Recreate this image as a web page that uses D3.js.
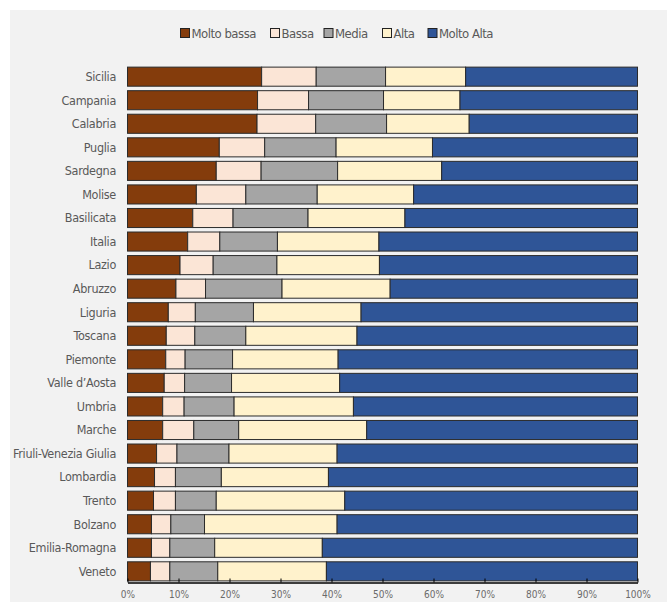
<!DOCTYPE html>
<html>
<head>
<meta charset="utf-8">
<script src="https://cdn.jsdelivr.net/npm/d3@7"></script>
<style>
  html, body { margin: 0; padding: 0; background: #ffffff; }
  svg { display: block; }
  text { font-family: "DejaVu Sans Condensed", "Liberation Sans Narrow", "Roboto", sans-serif; }
</style>
</head>
<body>
<svg id="chart" width="667" height="602"></svg>
<script>
const regions = ["Sicilia","Campania","Calabria","Puglia","Sardegna","Molise","Basilicata","Italia","Lazio","Abruzzo","Liguria","Toscana","Piemonte","Valle d\u2019Aosta","Umbria","Marche","Friuli-Venezia Giulia","Lombardia","Trento","Bolzano","Emilia-Romagna","Veneto"];
const seriesNames = ["Molto bassa","Bassa","Media","Alta","Molto Alta"];
const seriesColors = ["#843c0c","#fbe5d6","#a5a5a5","#fff2cc","#2f5597"];

// percentages per region (same order as regions)
const moltoBassa = [26.3,25.5,25.4,18.0,17.4,13.5,12.8,11.8,10.3,9.5,8.0,7.6,7.5,7.2,6.9,6.9,5.7,5.3,5.1,4.7,4.7,4.5];
const bassa      = [10.7,10.0,11.5,8.9,8.8,9.7,7.9,6.3,6.5,5.8,5.3,5.6,3.8,4.0,4.2,6.1,4.0,4.1,4.3,3.8,3.6,3.8];
const media      = [13.6,14.7,13.9,14.0,15.0,14.0,14.7,11.3,12.5,15.0,11.4,10.0,9.3,9.2,9.8,8.8,10.2,9.0,8.0,6.6,8.8,9.4];
const alta       = [15.7,15.0,16.2,18.9,20.4,18.9,19.0,19.9,20.1,21.2,21.1,21.8,20.7,21.2,23.4,25.1,21.2,21.0,25.2,26.0,21.1,21.3];
const moltoAlta  = [33.7,34.8,33.0,40.2,38.4,43.9,45.6,50.7,50.6,48.5,54.2,55.0,58.7,58.4,55.7,53.1,58.9,60.6,57.4,58.9,61.8,61.0];
const tickValues = [0,10,20,30,40,50,60,70,80,90,100];

const table = regions.map((r, i) => ({
  region: r,
  "Molto bassa": moltoBassa[i],
  "Bassa": bassa[i],
  "Media": media[i],
  "Alta": alta[i],
  "Molto Alta": moltoAlta[i]
}));
// normalise to 100%
table.forEach(d => {
  const tot = seriesNames.reduce((s, k) => s + d[k], 0);
  seriesNames.forEach(k => d[k] = d[k] / tot * 100);
});

const svg = d3.select("#chart");
svg.append("rect").attr("x", 10).attr("y", 10).attr("width", 657).attr("height", 592).attr("fill", "#f2f2f2");

const x = d3.scaleLinear().domain([0, 100]).range([127.5, 637.5]);
const y = d3.scaleBand().domain(regions).range([65, 583]).paddingInner(0.19).paddingOuter(0.09);

const stack = d3.stack().keys(seriesNames);
const stacked = stack(table);
const color = d3.scaleOrdinal().domain(seriesNames).range(seriesColors);

svg.append("g").selectAll("g").data(stacked).join("g")
  .attr("fill", d => color(d.key))
  .selectAll("rect").data(d => d).join("rect")
  .attr("x", d => x(d[0]))
  .attr("y", d => y(d.data.region))
  .attr("width", d => x(d[1]) - x(d[0]))
  .attr("height", y.bandwidth())
  .attr("stroke", "#2b2b2b")
  .attr("stroke-width", 1);

// category labels
svg.append("g").selectAll("text").data(regions).join("text")
  .attr("x", 116)
  .attr("y", d => y(d) + y.bandwidth() / 2)
  .attr("dy", "0.35em")
  .attr("text-anchor", "end")
  .attr("font-size", 12.5)
  .attr("letter-spacing", "-0.3px")
  .attr("fill", "#595959")
  .text(d => d);

// x axis
const axisY = 582.5;
const xAxis = d3.axisBottom(x).tickValues(tickValues).tickFormat(d => d + "%").tickSizeInner(-4).tickSizeOuter(0).tickPadding(8);
const ax = svg.append("g").attr("transform", `translate(0,${axisY})`).call(xAxis);
ax.select(".domain").attr("stroke", "#000").attr("stroke-width", 1.5);
ax.selectAll(".tick line").attr("stroke", "#000");
ax.selectAll(".tick text").attr("font-size", 10).attr("fill", "#6b6b6b")
  .style("font-family", "\"DejaVu Sans Condensed\", sans-serif");

// legend
const legendX = [180.5, 270.5, 324, 382.5, 428];
const lg = svg.append("g").selectAll("g").data(seriesNames).join("g")
  .attr("transform", (d, i) => `translate(${legendX[i]},27)`);
lg.append("rect").attr("width", 9).attr("height", 9).attr("y", 1.5)
  .attr("fill", d => color(d)).attr("stroke", "#222").attr("stroke-width", 1);
lg.append("text").attr("x", 11).attr("y", 6).attr("dy", "0.35em")
  .attr("font-size", 13).attr("letter-spacing", "-0.5px").attr("fill", "#595959").text(d => d);
</script>
</body>
</html>
